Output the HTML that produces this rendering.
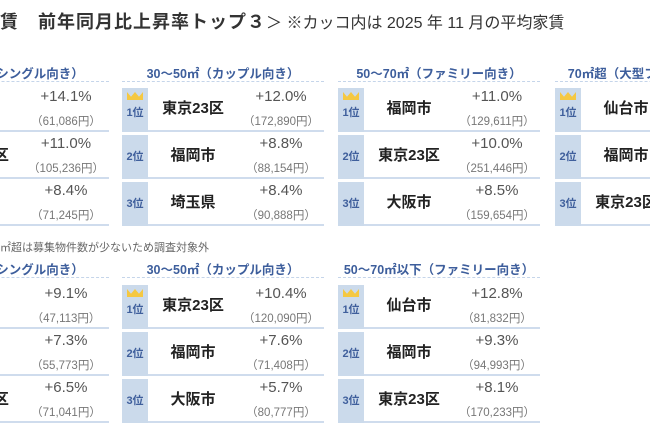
<!DOCTYPE html>
<html><head><meta charset="utf-8"><style>
body{margin:0;width:650px;height:434px;overflow:hidden;background:#fff;position:relative;font-family:"Liberation Sans","Noto Sans CJK JP",sans-serif;}
.a{position:absolute;white-space:nowrap}
.title{left:0;top:8px;font-size:18px;font-weight:bold;color:#333;letter-spacing:1px}
.title span{font-weight:normal;font-size:16px;letter-spacing:0}
.hd{position:absolute;width:202px;text-align:center;font-size:12.5px;font-weight:bold;color:#3d5e9c;white-space:nowrap}
.dash{position:absolute;width:202px;border-top:1.5px dashed #c5d5ea}
.row{position:absolute;width:202px;height:42px;border-bottom:2px solid #cfdced}
.rk{position:absolute;left:0;top:0;width:26px;height:44px;background:#cbdaeb;color:#3f5f9c;font-size:11px;font-weight:bold;text-align:center;line-height:44px}
.rk.c{line-height:50px}
.cr{position:absolute;left:5px;top:4px;width:16px;height:8px;background:#f5c842;clip-path:polygon(0 0,25% 60%,50% 0,75% 60%,100% 0,100% 100%,0 100%)}
.nm{position:absolute;left:26px;width:90px;top:0;line-height:42px;text-align:center;font-size:15px;font-weight:bold;color:#222}
.pc{position:absolute;left:116px;width:86px;top:0px;text-align:center;font-size:15px;color:#555}
.yn{position:absolute;left:116px;width:86px;top:25px;text-align:center;font-size:11.5px;color:#777}
.note{left:0;top:239px;font-size:11px;color:#666}
</style></head><body>
<div class="a title">賃　前年同月比上昇率トップ３<span>＞ ※カッコ内は 2025 年 11 月の平均家賃</span></div>
<div class="a note">㎡超は募集物件数が少ないため調査対象外</div>
<div id="c"></div>
<script>
const P=[
[-93,63,88,"30㎡以下（シングル向き）",[["京都市","+14.1%","（61,086円）"],["東京23区","+11.0%","（105,236円）"],["札幌市","+8.4%","（71,245円）"]]],
[122,63,88,"30〜50㎡（カップル向き）",[["東京23区","+12.0%","（172,890円）"],["福岡市","+8.8%","（88,154円）"],["埼玉県","+8.4%","（90,888円）"]]],
[338,63,88,"50〜70㎡（ファミリー向き）",[["福岡市","+11.0%","（129,611円）"],["東京23区","+10.0%","（251,446円）"],["大阪市","+8.5%","（159,654円）"]]],
[555,63,88,"70㎡超（大型ファミリー向き）",[["仙台市","",""],["福岡市","",""],["東京23区","",""]]],
[-93,259,285,"30㎡以下（シングル向き）",[["札幌市","+9.1%","（47,113円）"],["京都市","+7.3%","（55,773円）"],["東京23区","+6.5%","（71,041円）"]]],
[122,259,285,"30〜50㎡（カップル向き）",[["東京23区","+10.4%","（120,090円）"],["福岡市","+7.6%","（71,408円）"],["大阪市","+5.7%","（80,777円）"]]],
[338,259,285,"50〜70㎡以下（ファミリー向き）",[["仙台市","+12.8%","（81,832円）"],["福岡市","+9.3%","（94,993円）"],["東京23区","+8.1%","（170,233円）"]]]
];
let h="";
for(const [x,hy,ry,t,rows] of P){
 h+=`<div class="hd" style="left:${x}px;top:${hy}px">${t}</div><div class="dash" style="left:${x}px;top:${hy+18}px"></div>`;
 rows.forEach((r,i)=>{
  h+=`<div class="row" style="left:${x}px;top:${ry+i*47}px"><div class="rk${i==0?' c':''}">${i==0?'<div class="cr"></div>':''}${i+1}位</div><div class="nm">${r[0]}</div><div class="pc">${r[1]}</div><div class="yn">${r[2]}</div></div>`;
 });
}
document.getElementById("c").innerHTML=h;
</script>
</body></html>
